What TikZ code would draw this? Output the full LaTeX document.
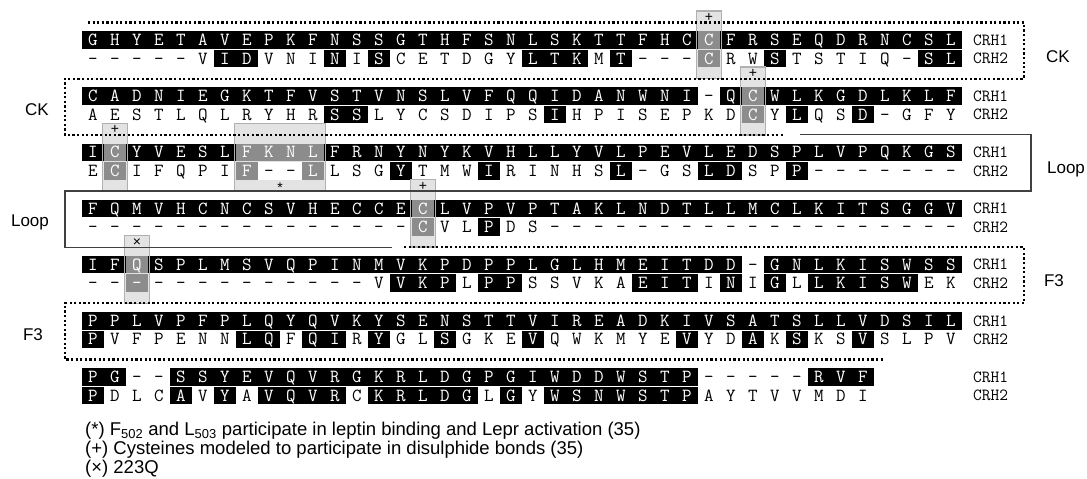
\documentclass[tikz,border=0pt]{standalone}
\usepackage{fontspec}
\setsansfont{Liberation Sans}
\usepackage{tikz}
\definecolor{cellgray}{HTML}{8C8C8C}
\definecolor{markgray}{HTML}{E3E3E3}
\definecolor{boxgray}{HTML}{B0B0B0}

\ExplSyntaxOn
\NewExpandableDocumentCommand{\seqitem}{mm}{\tl_item:nn{#1}{#2}}
\NewExpandableDocumentCommand{\seqlen}{m}{\tl_count:n{#1}}
\ExplSyntaxOff

% one aligned row: name, y, residues, shading (k black, g gray, w white, o none)
\newcommand{\seqrow}[4]{%
  \edef\nres{\seqlen{#3}}%
  \foreach \c in {1,...,\nres}{%
    \edef\res{\seqitem{#3}{\c}}%
    \edef\msk{\seqitem{#4}{\c}}%
    \edef\putcell{\noexpand\node[cell\msk] (#1-\c) at (\the\numexpr71+22*\c\relax,#2) {\res};}%
    \putcell
  }%
}

\begin{document}
\begin{tikzpicture}[x=1pt,y=-1pt]
  \tikzstyle{cell}=[minimum width=22pt, minimum height=17.5pt, inner sep=0pt, outer sep=0pt,
                    text height=11.3pt, text depth=0pt, font=\ttfamily\fontsize{18.5}{18.5}\selectfont]
  \tikzstyle{cellk}=[cell, fill=black, text=white]
  \tikzstyle{cellg}=[cell, fill=cellgray, text=white]
  \tikzstyle{cellw}=[cell, fill=white]
  \tikzstyle{cello}=[cell]
  \tikzstyle{tag}=[anchor=west, inner sep=0pt, text height=10.4pt, text depth=0pt,
                   font=\ttfamily\fontsize{17}{17}\selectfont]
  \tikzstyle{dlabel}=[inner sep=0pt, font=\sffamily\fontsize{17}{17}\selectfont]
  \tikzstyle{marker}=[inner sep=0pt, font=\sffamily\fontsize{14}{14}\selectfont]
  \tikzstyle{note}=[anchor=west, inner sep=0pt, font=\sffamily\fontsize{18.5}{20}\selectfont]
  \tikzstyle{boxline}=[draw=boxgray, line width=1.5pt]
  \tikzstyle{domline}=[draw=black, line width=2.2pt, dash pattern=on 2.2pt off 2.4pt]
  \tikzstyle{loopline}=[draw=black!75, line width=1.3pt]

  \useasboundingbox (0,0) rectangle (1087,479);

  % highlighted columns
  \foreach \xa/\xb/\yy in {696.5/721.5/40, 740.5/765.5/96.17, 102.5/127.5/152.33,
                           234.5/325.5/152.33, 410.5/435.5/208.5, 124.5/149.5/264.67}
    \fill[markgray] (\xa,\yy-29) rectangle (\xb,\yy+38.67);

  \seqrow{r1a}{40}{GHYET AVEPK FNSSG THFSN LSKTT FHCCF RSEQD RNCSL}{kkkkk kkkkk kkkkk kkkkk kkkkk kkkgk kkkkk kkkkk}
  \seqrow{r1b}{58.5}{----- VIDVN INISC ETDGY LTKMT ---CR WSTST IQ-SL}{ooooo okkoo okoko ooooo kkkok ooogo okooo oookk}
  \seqrow{r2a}{96.17}{CADNI EGKTF VSTVN SLVFQ QIDAN WNI-Q CWLKG DLKLF}{kkkkk kkkkk kkkkk kkkkk kkkkk kkkok gkkkk kkkkk}
  \seqrow{r2b}{114.67}{AESTL QLRYH RSSLY CSDIP SIHPI SEPKD CYLQS D-GFY}{ooooo ooooo okkoo ooooo okooo ooooo gokoo koooo}
  \seqrow{r3a}{152.33}{ICYVE SLFKN LFRNY NYKVH LLYVL PEVLE DSPLV PQKGS}{kgkkk kkggg gkkkk kkkkk kkkkk kkkkk kkkkk kkkkk}
  \seqrow{r3b}{170.83}{ECIFQ PIF-- LLSGY TMWIR INHSL -GSLD SPP-- -----}{ogooo oogww goook oooko ooook oookk ookoo ooooo}
  \seqrow{r4a}{208.5}{FQMVH CNCSV HECCE CLVPV PTAKL NDTLL MCLKI TSGGV}{kkkkk kkkkk kkkkk gkkkk kkkkk kkkkk kkkkk kkkkk}
  \seqrow{r4b}{227}{----- ----- ----- CVLPD S---- ----- ----- -----}{ooooo ooooo ooooo gooko ooooo ooooo ooooo ooooo}
  \seqrow{r5a}{264.67}{IFQSP LMSVQ PINMV KPDPP LGLHM EITDD -GNLK ISWSS}{kkgkk kkkkk kkkkk kkkkk kkkkk kkkkk okkkk kkkkk}
  \seqrow{r5b}{283.17}{----- ----- ---VV KPLPP SSVKA EITIN IGLLK ISWEK}{oogoo ooooo ooook kkokk ooooo kkkok okokk kkkoo}
  \seqrow{r6a}{320.83}{PPLVP FPLQY QVKYS ENSTT VIREA DKIVS ATSLL VDSIL}{kkkkk kkkkk kkkkk kkkkk kkkkk kkkkk kkkkk kkkkk}
  \seqrow{r6b}{339.33}{PVFPE NNLQF QIRYG LSGKE VQWKM YEVYD AKSKS VSLPV}{koooo ookko kkoko okooo koooo ookoo kokoo koooo}
  \seqrow{r7a}{377}{PG--S SYEVQ VRGKR LDGPG IWDDW STP-- ---RV F}{kkook kkkkk kkkkk kkkkk kkkkk kkkoo oookk k}
  \seqrow{r7b}{395.5}{PDLCA VYAVQ VRCKR LDGLG YWSNW STPAY TVVMD I}{koook okokk kkokk kkkok okkkk kkkoo ooooo o}

  \foreach \yy [count=\b] in {40,96.17,152.33,208.5,264.67,320.83,377}{
    \node[tag] (t\b-1) at (973,\yy) {CRH1};
    \node[tag] (t\b-2) at (973,\yy+18.5) {CRH2};
  }

  \foreach \xa/\xb/\yy in {696.5/721.5/40, 740.5/765.5/96.17, 102.5/127.5/152.33,
                           234.5/325.5/152.33, 410.5/435.5/208.5, 124.5/149.5/264.67}
    \draw[boxline] (\xa,\yy-29) rectangle (\xb,\yy+38.67);

  % domains
  \draw[domline] (88,22.5) -- (1024,22.5) -- (1024,78.67) -- (65,78.67) -- (65,134.83) -- (783,134.83);
  \draw[loopline] (800,134.83) -- (1031,134.83) -- (1031,191) -- (65,191) -- (65,247.17) -- (392,247.17);
  \draw[domline] (404,247.17) -- (1024,247.17) -- (1024,303.33) -- (65,303.33) -- (65,359.5) -- (885,359.5);

  \node[marker] (p1) at (709,17.5) {+};
  \node[marker] (p2) at (753,73.67) {+};
  \node[marker] (p3) at (115,129.83) {+};
  \node[marker] (p4) at (423,186) {+};
  \node[marker] (q1) at (137,242.17) {×};
  \node[marker] (st) at (280,187.33) {*};

  \node[dlabel] (ckR) at (1058,57) {CK};
  \node[dlabel] (ckL) at (37,110) {CK};
  \node[dlabel] (loopR) at (1066,169) {Loop};
  \node[dlabel] (loopL) at (30,222) {Loop};
  \node[dlabel] (f3R) at (1054,281) {F3};
  \node[dlabel] (f3L) at (33,335) {F3};

  \node[note] (n1) at (85,431) {(*) F\textsubscript{502} and L\textsubscript{503} participate in leptin binding and Lepr activation (35)};
  \node[note] (n2) at (85,450) {(+) Cysteines modeled to participate in disulphide bonds (35)};
  \node[note] (n3) at (85,469) {(×) 223Q};
\end{tikzpicture}
\end{document}
